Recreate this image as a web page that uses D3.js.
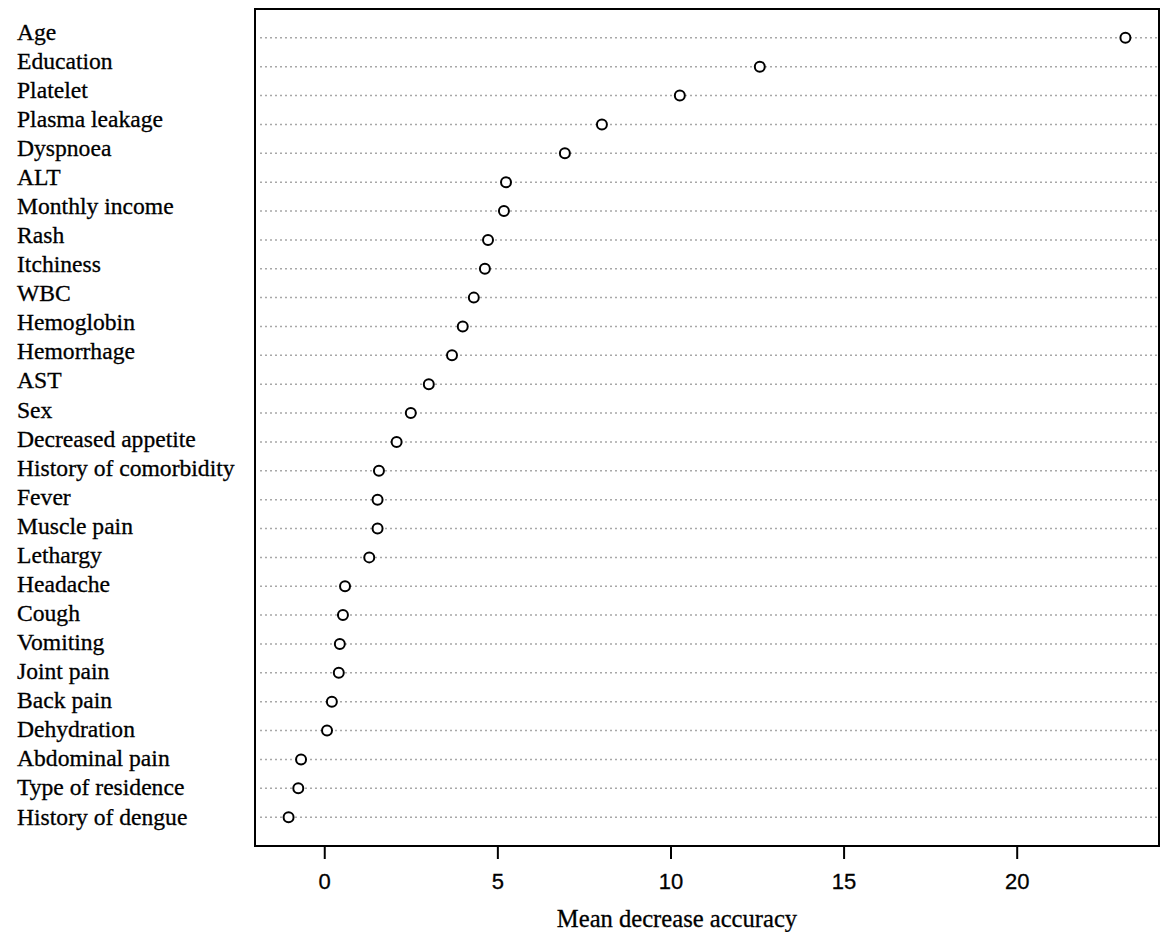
<!DOCTYPE html>
<html>
<head>
<meta charset="utf-8">
<script src="https://cdn.jsdelivr.net/npm/d3@7"></script>
<style>
  body { margin: 0; background: #fff; }
  svg { display: block; }
</style>
</head>
<body>
<script>
// variables, top to bottom as they appear in the chart
var variables = ["Age", "Education", "Platelet", "Plasma leakage", "Dyspnoea", "ALT",
  "Monthly income", "Rash", "Itchiness", "WBC", "Hemoglobin", "Hemorrhage", "AST", "Sex",
  "Decreased appetite", "History of comorbidity", "Fever", "Muscle pain", "Lethargy",
  "Headache", "Cough", "Vomiting", "Joint pain", "Back pain", "Dehydration",
  "Abdominal pain", "Type of residence", "History of dengue"];

// mean decrease accuracy, same order
var accuracy = [23.14, 12.58, 10.27, 8.02, 6.95, 5.25,
  5.19, 4.73, 4.64, 4.32, 4.00, 3.69, 3.02, 2.50,
  2.09, 1.58, 1.54, 1.54, 1.30,
  0.60, 0.54, 0.45, 0.42, 0.22, 0.08,
  -0.67, -0.75, -1.03];

var xTicks = [0, 5, 10, 15, 20];
var xTitle = "Mean decrease accuracy";

var W = 1166, H = 932;
var box = {left: 255, right: 1159, top: 9, bottom: 846};

var svg = d3.select("body").append("svg").attr("width", W).attr("height", H);

var n = variables.length;
var x = d3.scaleLinear().domain([-2.0, 24.11]).range([box.left, box.right]);
// dotchart style: row i sits at n - i, with one empty slot at each end
var y = d3.scaleLinear().domain([0, n + 1]).range([box.bottom, box.top]);
var yLab = d3.scaleLinear().domain([1, n]).range([817, 32]);

var rows = variables.map(function(v, i) { return {name: v, value: accuracy[i], pos: n - i}; });

// dotted guide lines
svg.append("g").selectAll("line").data(rows).join("line")
  .attr("x1", box.left + 5).attr("x2", box.right - 2)
  .attr("y1", function(d) { return y(d.pos); })
  .attr("y2", function(d) { return y(d.pos); })
  .attr("stroke", "#a8a8a8").attr("stroke-width", 1.5)
  .attr("stroke-dasharray", "2,3");

// points
svg.append("g").selectAll("circle").data(rows).join("circle")
  .attr("cx", function(d) { return x(d.value); })
  .attr("cy", function(d) { return y(d.pos); })
  .attr("r", 5)
  .attr("fill", "#fff").attr("stroke", "#000").attr("stroke-width", 2);

// frame
svg.append("rect")
  .attr("x", box.left).attr("y", box.top)
  .attr("width", box.right - box.left).attr("height", box.bottom - box.top)
  .attr("fill", "none").attr("stroke", "#000").attr("stroke-width", 2);

// row labels
svg.append("g").selectAll("text").data(rows).join("text")
  .attr("x", 17)
  .attr("y", function(d) { return yLab(d.pos); })
  .attr("dy", "0.32em")
  .attr("font-family", "'Liberation Serif', 'Times New Roman', serif")
  .attr("font-size", 23.6)
  .attr("fill", "#000")
  .attr("stroke", "#000").attr("stroke-width", 0.3)
  .text(function(d) { return d.name; });

// x axis
var xAxis = d3.axisBottom(x).tickValues(xTicks).tickSize(13).tickPadding(14);
var ax = svg.append("g").attr("transform", "translate(0," + box.bottom + ")").call(xAxis);
ax.select(".domain").remove();
ax.selectAll(".tick line").attr("stroke", "#000").attr("stroke-width", 2);
ax.selectAll(".tick text")
  .attr("font-family", "'Liberation Sans', Arial, sans-serif")
  .attr("font-size", 22).attr("fill", "#000")
  .attr("stroke", "#000").attr("stroke-width", 0.3);

svg.append("text")
  .attr("x", 677).attr("y", 927)
  .attr("text-anchor", "middle")
  .attr("font-family", "'Liberation Serif', 'Times New Roman', serif")
  .attr("font-size", 24.6)
  .attr("fill", "#000")
  .attr("stroke", "#000").attr("stroke-width", 0.3)
  .text(xTitle);
</script>
</body>
</html>
